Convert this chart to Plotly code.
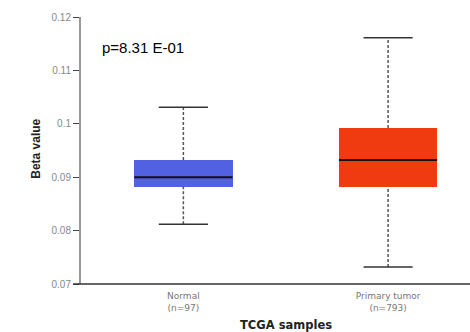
import plotly.graph_objects as go

categories = ["Normal<br>(n=97)", "Primary tumor<br>(n=793)"]
lower_whisker = [0.0812, 0.0732]
q1 = [0.0882, 0.0882]
median = [0.0900, 0.0932]
q3 = [0.0932, 0.0992]
upper_whisker = [0.1031, 0.1161]
colors = ["#5161E2", "#F03A10"]
p_text = "p=8.31 E-01"
x_title = "<b>TCGA samples</b>"
y_title = "<b>Beta value</b>"
y_ticks = [0.07, 0.08, 0.09, 0.1, 0.11, 0.12]
y_tick_text = ["0.07", "0.08", "0.09", "0.1", "0.11", "0.12"]

xs = list(range(len(categories)))
box_w = 0.48
cap_w = 0.24

fig = go.Figure()

for i in xs:
    fig.add_trace(go.Scatter(x=[i, i], y=[q3[i], upper_whisker[i]], mode="lines",
                             line=dict(color="#555555", width=1.5, dash="3px,2px"),
                             hoverinfo="skip", showlegend=False))
    fig.add_trace(go.Scatter(x=[i, i], y=[lower_whisker[i], q1[i]], mode="lines",
                             line=dict(color="#555555", width=1.5, dash="3px,2px"),
                             hoverinfo="skip", showlegend=False))
    for v in (lower_whisker[i], upper_whisker[i]):
        fig.add_trace(go.Scatter(x=[i - cap_w / 2, i + cap_w / 2], y=[v, v], mode="lines",
                                 line=dict(color="#333333", width=1.5),
                                 hoverinfo="skip", showlegend=False))

fig.add_trace(go.Bar(x=xs, y=[q3[i] - q1[i] for i in xs], base=q1, width=box_w,
                     marker=dict(color=colors, line=dict(width=0)),
                     hoverinfo="skip", showlegend=False))

for i in xs:
    fig.add_trace(go.Scatter(x=[i - box_w / 2, i + box_w / 2], y=[median[i], median[i]], mode="lines",
                             line=dict(color="#111111", width=2),
                             hoverinfo="skip", showlegend=False))

fig.add_annotation(text=p_text, xref="paper", yref="paper", x=0.048, y=0.884,
                   xanchor="left", yanchor="middle", showarrow=False,
                   font=dict(family="Liberation Sans, Arial", size=15, color="#000000"))

fig.add_annotation(text=x_title, xref="x", yref="paper", x=0.5, y=-0.152,
                   xanchor="center", yanchor="middle", showarrow=False,
                   font=dict(family="DejaVu Sans", size=11.5, color="#222222"))

fig.add_annotation(text=y_title, xref="paper", yref="paper", x=-0.116, y=0.506,
                   xanchor="center", yanchor="middle", showarrow=False, textangle=-90,
                   font=dict(family="Liberation Sans, Arial", size=12, color="#222222"))

fig.update_layout(
    width=470, height=332,
    margin=dict(l=81, r=0, t=17, b=48),
    paper_bgcolor="white", plot_bgcolor="white",
    bargap=0,
    xaxis=dict(range=[-0.5, 1.4], tickvals=xs, ticktext=categories,
               showgrid=False, zeroline=False, showline=False, ticks="",
               ticklabelstandoff=5,
               tickfont=dict(family="DejaVu Sans", size=9, color="#777777")),
    yaxis=dict(range=[0.07, 0.12], tickvals=y_ticks, ticktext=y_tick_text,
               showgrid=False, zeroline=False, showline=True, linecolor="#999999", linewidth=2,
               ticks="outside", ticklen=6, tickcolor="#444444", tickwidth=1,
               tickfont=dict(family="Liberation Sans, Arial", size=10, color="#888888")),
)

fig.add_shape(type="line", xref="paper", yref="paper", x0=-0.02, x1=1, y0=0, y1=0,
              line=dict(color="#333333", width=1.5), layer="above")

fig.write_html("out.html")
